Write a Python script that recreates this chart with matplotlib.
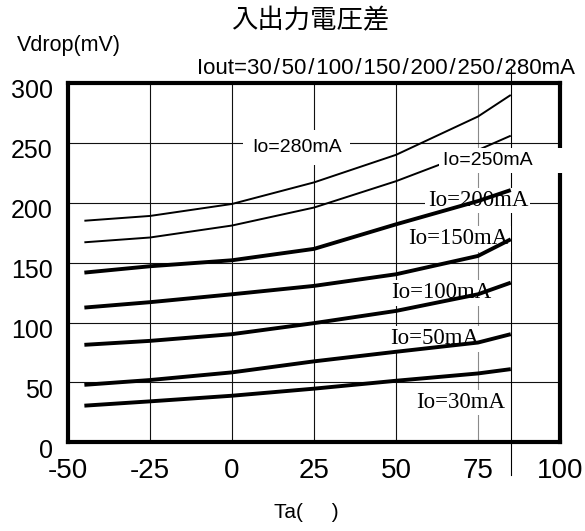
import matplotlib
matplotlib.use("Agg")
import matplotlib.pyplot as plt
from matplotlib.transforms import ScaledTranslation

plt.rcParams["font.family"] = ["Liberation Sans", "DejaVu Sans"]
plt.rcParams["axes.unicode_minus"] = False

# Ambient temperature (deg C) and dropout voltage (mV) per output current
temps = [-45, -25, 0, 25, 50, 75, 85]
vdrop_30ma = [30.6, 34.2, 38.9, 44.8, 51.4, 57.5, 61.1]
vdrop_50ma = [48.0, 52.0, 58.4, 67.6, 75.6, 83.3, 90.3]
vdrop_100ma = [81.4, 84.7, 90.3, 99.5, 109.7, 123.6, 133.3]
vdrop_150ma = [112.5, 117.0, 123.6, 130.6, 140.3, 155.6, 169.5]
vdrop_200ma = [141.7, 147.0, 152.0, 161.5, 182.0, 201.4, 210.6]
vdrop_250ma = [167.0, 171.0, 181.0, 196.0, 218.0, 244.0, 256.0]
vdrop_280ma = [185.0, 189.0, 199.0, 217.0, 240.0, 272.0, 290.0]

curve_labels = ["Io=30mA", "Io=50mA", "Io=100mA", "Io=150mA",
                "Io=200mA", "Io=250mA", "Io=280mA"]
# label anchor points (temperature, mV)
label_x = [69.7, 61.9, 63.8, 69.0, 75.0, 64.3, 19.7]
label_y = [33.2, 86.3, 124.7, 169.8, 202.0, 235.4, 246.3]

x_ticks = [-50, -25, 0, 25, 50, 75, 100]
y_ticks = [0, 50, 100, 150, 200, 250, 300]
t_max_rated = 85
iout_values = ["30", "50", "100", "150", "200", "250", "280mA"]

fig = plt.figure(figsize=(5.85, 5.31), dpi=100)
ax = fig.add_axes([0.1162, 0.1670, 0.8410, 0.6767])
ax.set_xlim(-50, 100)
ax.set_ylim(0, 300)
ax.set_xticks(x_ticks)
ax.set_yticks(y_ticks)
ax.set_axisbelow(True)
ax.grid(True, color="#111111", linewidth=0.8)
ax.xaxis.get_gridlines()[5].set_color("#8a8a8a")

for s in ax.spines.values():
    s.set_linewidth(3.0)
    s.set_color("black")

ax.tick_params(axis="both", length=0)
ax.tick_params(axis="x", labelsize=20, pad=11)
ax.tick_params(axis="y", labelsize=18, pad=11)

# rated-temperature marker line running past the frame
ax.axvline(t_max_rated, ymin=-0.092, ymax=1.04, color="black",
           linewidth=0.8, clip_on=False, zorder=1.2)

series = [vdrop_30ma, vdrop_50ma, vdrop_100ma, vdrop_150ma,
          vdrop_200ma, vdrop_250ma, vdrop_280ma]
thick = [True, True, True, True, True, False, False]

for i, (vals, heavy, lab, lx, ly) in enumerate(zip(series, thick, curve_labels,
                                                   label_x, label_y)):
    ax.plot(temps, vals, color="black",
            linewidth=2.8 if heavy else 1.4,
            zorder=3 if heavy else 1.5,
            solid_capstyle="butt")
    if heavy:
        ax.text(lx, ly, lab, family="Liberation Serif", fontsize=16.5,
                ha="center", va="center", zorder=2,
                bbox=dict(boxstyle="square,pad=0.1", fc="white", ec="none"))
    elif i == 5:
        # this tag's white backing runs out over the right frame edge
        ax.text(lx, ly, lab + "      ", fontsize=14, ha="left", va="center",
                zorder=4, clip_on=False,
                bbox=dict(boxstyle="square,pad=0.2", fc="white", ec="none"))
    else:
        ax.text(lx, ly, lab, fontsize=14, ha="center", va="center",
                zorder=4, clip_on=False,
                bbox=dict(boxstyle="square,pad=0.45", fc="white", ec="none"))

off = ScaledTranslation(0, -6 / 100, fig.dpi_scale_trans)
for lbl in ax.get_yticklabels():
    lbl.set_transform(lbl.get_transform() + off)

sep = "\u200a/\u200a"
fig.text(310 / 585, 1 - 21 / 531, "入出力電圧差",
         family=["Noto Sans CJK JP", "DejaVu Sans"], fontsize=19,
         ha="center", va="center")
fig.text(17 / 585, 1 - 46 / 531, "Vdrop(mV)", fontsize=15.5,
         ha="left", va="center")
fig.text(575 / 585, 1 - 68 / 531, "Iout=" + sep.join(iout_values),
         fontsize=16, ha="right", va="center")
fig.text(306 / 585, 1 - 513 / 531, "Ta(     )", fontsize=15,
         ha="center", va="center")

fig.savefig("out.png", dpi=100)
